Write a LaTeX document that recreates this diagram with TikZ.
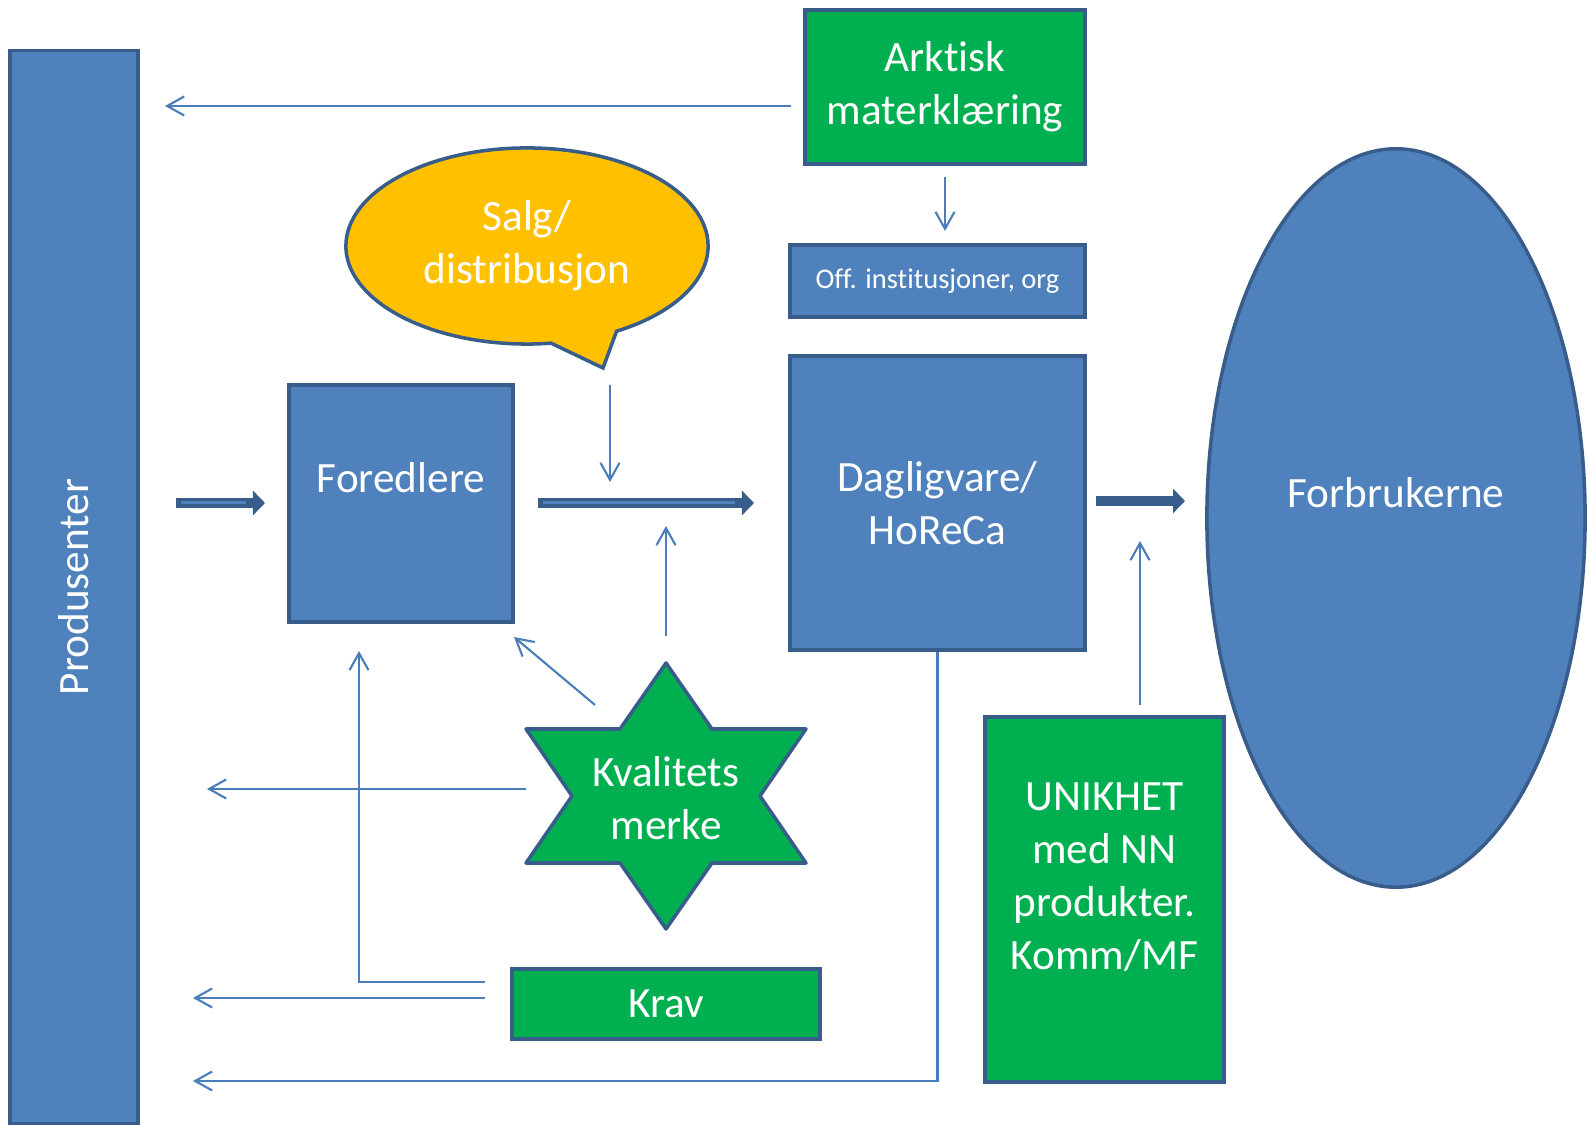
\documentclass[tikz,border=0pt]{standalone}
\usepackage{fontspec}
\setmainfont{Carlito}[Ligatures=NoCommon]
\usetikzlibrary{arrows.meta,shapes.geometric,shapes.callouts}

\definecolor{boxblue}{HTML}{4F81BD}
\definecolor{edgeblue}{HTML}{385D8A}
\definecolor{linkblue}{HTML}{4A7EBB}
\definecolor{markgreen}{HTML}{00B050}
\definecolor{salggold}{HTML}{FFC000}

\tikzset{
  box/.style={rectangle, draw=edgeblue, line width=1pt, fill=boxblue, text=white,
    align=center, font=\fontsize{12.3}{15}\selectfont},
  greenbox/.style={box, fill=markgreen},
  starbox/.style={draw=edgeblue, line width=1pt, fill=markgreen, line join=round},
  txt/.style={text=white, align=center, font=\fontsize{12.3}{15}\selectfont, inner sep=0pt},
  link/.style={draw=linkblue, line width=0.6pt, -{Straight Barb[length=1.7mm,width=1.9mm]}},
  flow/.style={draw=edgeblue, line width=0.1cm, -{Triangle[length=1.2mm,width=2.4mm]}},
  flowtwin/.style={flow, postaction={draw=boxblue, line width=0.03cm, -,
    shorten >=0.19cm, shorten <=0.05cm}},
}

\begin{document}
\begin{tikzpicture}[x=0.01cm, y=-0.01cm]
 \useasboundingbox (0,0) rectangle (1587,1125);

 % boxes
 \node[box, rotate=90, minimum width=10.72cm, minimum height=1.28cm] (prod) at (74,587) {Produsenter};
 \node[greenbox, minimum width=2.8cm, minimum height=1.54cm] (arkt) at (945,87) {Arktisk\\materklæring};
 \node[box, minimum width=2.95cm, minimum height=0.72cm, font=\fontsize{8.1}{10}\selectfont] (off) at (937.5,281) {Off. institusjoner, org};
 \node[ellipse callout, draw=edgeblue, line width=1pt, fill=salggold, text=white, align=center,
   font=\fontsize{12.3}{15}\selectfont, minimum width=3.62cm, minimum height=1.96cm,
   callout pointer arc=22, callout absolute pointer={(603,368)}] (salg) at (527,246) {Salg/\\distribusjon};
 \node[box, minimum width=2.24cm, minimum height=2.37cm] (fored) at (401,503.5) {};
 \node[txt] (foredtxt) at (401,478) {Foredlere};
 \node[box, minimum width=2.95cm, minimum height=2.94cm] (dagl) at (937.5,503) {Dagligvare/\\HoReCa};
 \node[ellipse, draw=edgeblue, line width=1pt, fill=boxblue, minimum width=3.78cm, minimum height=7.38cm] (forb) at (1396,518) {};
 \node[txt] (forbtxt) at (1396,493) {Forbrukerne};
 \node[greenbox, minimum width=2.39cm, minimum height=3.65cm] (unik) at (1104.5,899.5) {};
 \node[txt] (uniktxt) at (1104.5,877) {UNIKHET\\med NN\\produkter.\\Komm/MF};
 \node[greenbox, minimum width=3.08cm, minimum height=0.7cm] (krav) at (666,1004) {Krav};

 % star
 \draw[starbox, shift={(666,796)}] (0,-133) -- (46,-67) -- (140,-67) -- (94,0) -- (140,67) -- (46,67)
   -- (0,133) -- (-46,67) -- (-140,67) -- (-94,0) -- (-140,-67) -- (-46,-67) -- cycle;
 \node[txt] (kval) at (666,798) {Kvalitets\\merke};

 % free ends
 \coordinate (a1) at (791,106);  \coordinate (a2) at (165,106);
 \coordinate (a3) at (945,177);  \coordinate (a4) at (945,231);
 \coordinate (s1) at (610,385);  \coordinate (s2) at (610,482);
 \coordinate (f1) at (176,503);  \coordinate (f2) at (265,503);
 \coordinate (f3) at (538,503);  \coordinate (f4) at (754,503);
 \coordinate (f5) at (1096,501); \coordinate (f6) at (1185,501);
 \coordinate (k1) at (666,636);  \coordinate (k2) at (666,526);
 \coordinate (k3) at (595,705);  \coordinate (k4) at (514,637);
 \coordinate (k5) at (526,789);  \coordinate (k6) at (207,789);
 \coordinate (r1) at (485,982);  \coordinate (r2) at (359,982);  \coordinate (r3) at (359,651);
 \coordinate (r4) at (485,998);  \coordinate (r5) at (193,998);
 \coordinate (d2) at (937.5,1081); \coordinate (d3) at (193,1081);
 \coordinate (u1) at (1140,705); \coordinate (u2) at (1140,541);

 % arrows
 \draw[flowtwin] (f1) -- (f2);
 \draw[flowtwin] (f3) -- (f4);
 \draw[flow] (f5) -- (f6);
 \draw[link] (a1) -- (a2);
 \draw[link] (a3) -- (a4);
 \draw[link] (s1) -- (s2);
 \draw[link] (k1) -- (k2);
 \draw[link] (k3) -- (k4);
 \draw[link] (k5) -- (k6);
 \draw[link] (r1) -- (r2) -- (r3);
 \draw[link] (r4) -- (r5);
 \draw[link] (dagl.south) -- (d2) -- (d3);
 \draw[link] (u1) -- (u2);
\end{tikzpicture}
\end{document}
